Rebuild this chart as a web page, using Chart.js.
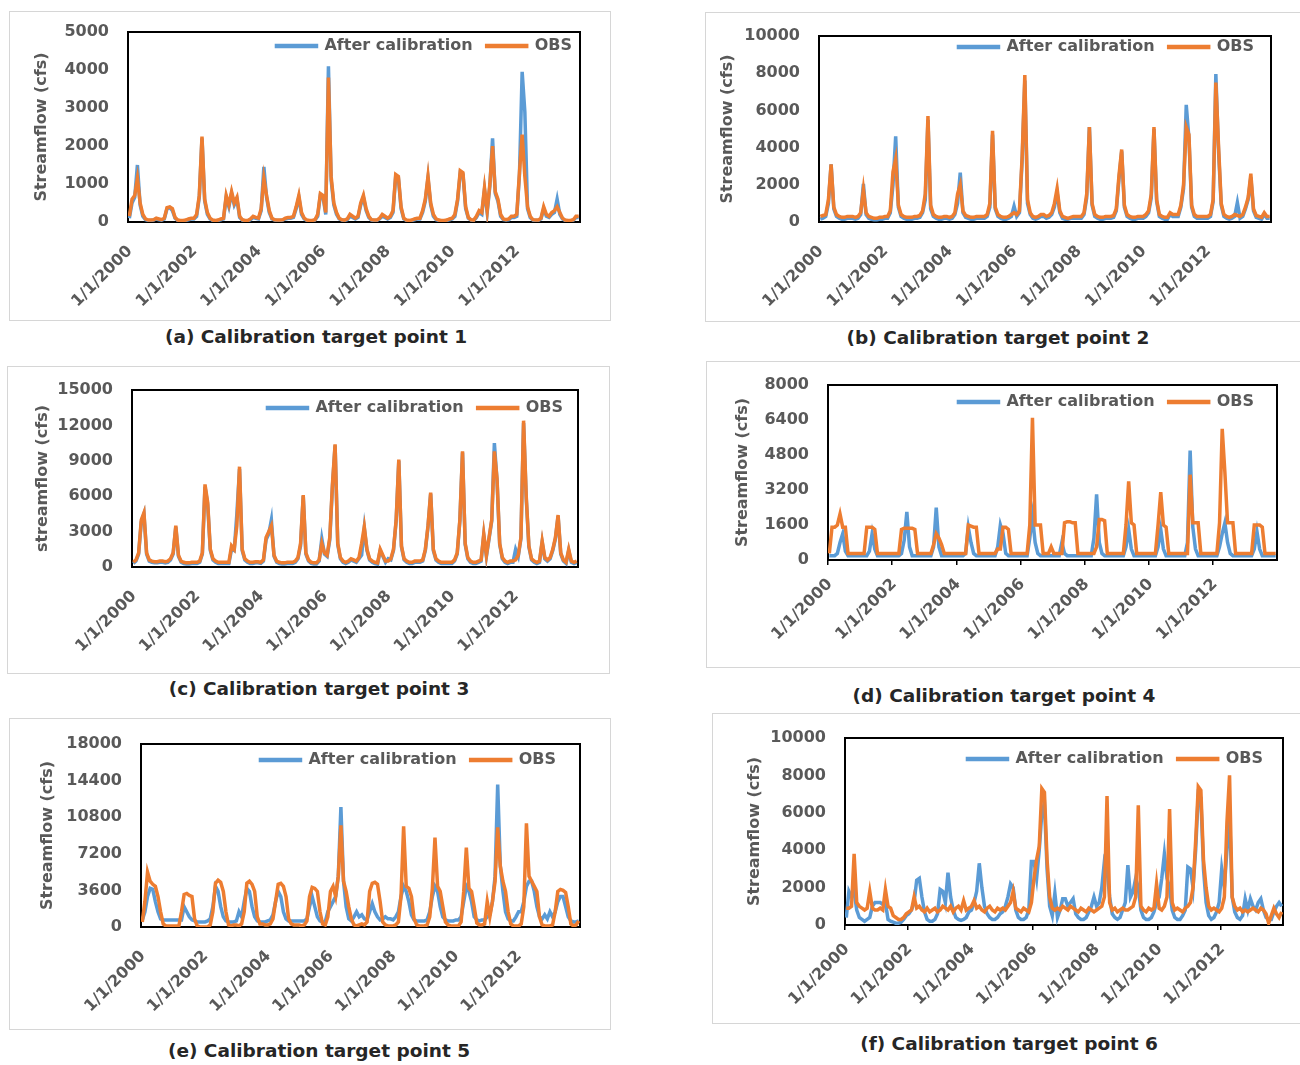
<!DOCTYPE html>
<html><head><meta charset="utf-8">
<script src="https://cdn.jsdelivr.net/npm/chart.js@4.4.1/dist/chart.umd.min.js"></script>
<style>
html,body{margin:0;padding:0;background:#fff;}
body{width:1300px;height:1065px;overflow:hidden;position:relative;}
.box{position:absolute;border:1.5px solid #d6d6d6;box-sizing:border-box;}
canvas{position:absolute;}
.cap{position:absolute;font-family:"DejaVu Sans";font-weight:bold;font-size:18.5px;line-height:22px;color:#262626;white-space:nowrap;transform:translateX(-50%);}
</style></head><body>
<script>
// ---------- categories / tick labels ----------
const seriesNames = ['After calibration', 'OBS'];
const xTickYears = [2000, 2002, 2004, 2006, 2008, 2010, 2012];
const months = [];
for (let y = 2000; y < 2014; y++) for (let m = 0; m < 12; m++) months.push(y + (m + 0.5) / 12);

const yTicksA = [0, 1000, 2000, 3000, 4000, 5000];
const yTicksB = [0, 2000, 4000, 6000, 8000, 10000];
const yTicksC = [0, 3000, 6000, 9000, 12000, 15000];
const yTicksD = [0, 1600, 3200, 4800, 6400, 8000];
const yTicksE = [0, 3600, 7200, 10800, 14400, 18000];
const yTicksF = [0, 2000, 4000, 6000, 8000, 10000];

// ---------- monthly values, Jan 2000 .. Dec 2013 (one row per year) ----------
const simA = [
100,500,650,1500,450,150,60,40,40,50,80,60,
50,80,350,380,300,100,40,30,30,40,60,80,
80,150,650,2200,550,200,80,40,30,40,60,80,
650,400,750,450,600,120,50,30,30,60,120,100,
80,300,1450,650,250,80,50,40,40,50,80,100,
100,120,350,650,200,80,40,30,30,50,150,700,
650,200,4100,1100,450,200,80,50,40,60,150,120,
80,120,450,650,300,120,50,40,40,80,150,120,
80,120,250,1200,1150,350,80,40,30,40,60,80,
80,250,550,1150,450,150,60,40,30,30,40,60,
80,150,550,1300,1250,350,100,50,40,120,250,200,
850,250,950,2200,750,550,150,60,50,60,120,120,
150,1250,3950,2900,350,120,50,40,40,80,350,150,
120,200,250,600,200,80,40,30,30,50,120,120];
const obsA = [
150,600,700,1150,500,200,80,50,50,60,100,80,
60,100,380,400,350,120,50,40,40,50,80,100,
100,200,700,2250,600,250,100,50,40,50,80,100,
700,450,800,500,650,150,60,40,40,80,150,120,
100,350,1150,700,300,100,60,50,50,60,100,120,
120,150,400,700,250,100,50,40,40,60,200,750,
700,250,3800,1200,500,250,100,60,50,80,200,150,
100,150,500,700,350,150,60,50,50,100,200,150,
100,150,300,1250,1200,400,100,50,40,50,80,100,
100,300,600,1200,500,200,80,50,40,40,50,80,
100,200,600,1350,1300,400,120,60,50,150,300,250,
900,300,1000,2000,800,600,200,80,60,80,150,150,
200,1300,2300,1200,400,150,60,50,50,100,400,200,
150,250,300,400,250,100,50,40,40,60,150,150];

const simB = [
150,200,300,1000,3100,700,300,200,150,150,200,200,
200,150,200,400,2050,400,200,150,120,120,150,150,
200,200,500,2000,4600,800,300,200,150,150,150,200,
200,250,500,1200,5500,700,300,200,150,150,200,200,
150,200,400,1000,2650,500,250,200,150,150,200,200,
200,200,300,800,4700,700,300,200,150,150,200,300,
850,300,500,3300,7600,1000,400,200,150,200,300,300,
200,250,400,800,1600,500,200,150,150,200,200,200,
200,200,400,1300,5100,900,300,200,150,150,200,200,
200,250,600,2300,3800,800,300,200,150,150,200,200,
200,300,500,1300,5000,1100,300,200,150,150,400,300,
300,300,800,1800,6300,4500,800,300,200,200,200,200,
200,300,1100,7950,3800,900,300,200,150,200,300,1050,
200,300,700,1200,2400,600,250,200,150,400,200,200];
const obsB = [
300,350,400,1200,3100,800,400,300,250,250,300,300,
300,250,300,500,1750,500,300,250,200,200,250,250,
300,300,600,2700,3400,900,400,300,250,250,250,300,
300,350,600,1500,5700,900,400,300,250,250,300,300,
250,300,500,1500,2000,600,350,300,250,250,300,300,
300,300,400,1000,4900,800,400,300,250,250,300,400,
500,400,600,3500,7900,1200,500,300,250,300,400,400,
300,350,500,1000,1800,600,300,250,200,250,300,300,
300,300,500,1500,5100,1000,400,300,250,250,300,300,
300,350,700,2500,3900,900,400,300,250,250,300,300,
300,400,600,1500,5100,1200,400,300,250,250,500,400,
400,400,900,2000,5100,4700,900,400,300,300,300,300,
300,400,1200,7500,4100,1000,400,300,250,300,400,350,
300,400,800,1300,2600,700,350,300,250,500,300,300];

const simC = [
300,500,1100,3800,4500,1100,500,400,350,350,400,400,
350,400,600,1100,3400,900,400,300,250,250,300,300,
300,400,1100,6800,5300,1400,600,400,300,300,300,300,
300,1500,1400,4500,8300,1400,600,400,300,300,350,350,
300,500,2300,2800,4000,900,400,300,250,250,300,300,
300,400,700,1800,6000,1100,500,300,250,250,500,2400,
1100,900,2300,6800,10300,1900,700,400,300,400,600,500,
400,700,1000,3300,1400,600,400,300,250,1400,900,400,
700,600,1400,3900,9000,1700,600,400,300,300,400,400,
400,500,1400,3400,6200,1400,600,400,300,300,300,300,
300,500,1100,3900,9700,1900,700,400,300,300,400,500,
2700,900,2400,3900,10500,7300,1900,700,400,300,400,400,
1500,900,2400,12200,5800,1700,600,400,300,400,2100,700,
500,700,1400,2400,4300,1100,500,300,1400,400,300,400];
const obsC = [
400,600,1200,4000,4600,1200,600,500,450,450,500,500,
450,500,700,1200,3500,1000,500,400,350,350,400,400,
400,500,1200,7000,5500,1500,700,500,400,400,400,400,
400,1800,1500,3500,8500,1500,700,500,400,400,450,450,
400,600,2500,3000,3500,1000,500,400,350,350,400,400,
400,500,800,2000,6100,1200,600,400,350,350,600,2000,
1200,1000,2500,7000,10400,2000,800,500,400,500,700,600,
500,800,2000,3400,1500,700,500,400,350,1500,1000,500,
500,700,1500,4000,9100,1800,700,500,400,400,500,500,
500,600,1500,3500,6300,1500,700,500,400,400,400,400,
400,600,1200,4000,9800,2000,800,500,400,400,500,600,
2800,1000,2500,4000,9800,7500,2000,800,500,400,500,500,
600,1000,2500,12400,6000,1800,700,500,400,500,2200,800,
600,800,1500,2500,4400,1200,600,400,1500,500,400,500];

const simD = [
200,200,200,300,800,1200,400,200,200,200,200,200,
200,200,200,400,1200,500,200,200,200,200,200,200,
200,200,200,300,900,2200,600,200,200,200,200,200,
200,200,200,600,2400,600,200,200,200,200,200,200,
200,200,200,300,1500,800,300,200,200,200,200,200,
200,200,200,600,1600,1200,300,200,200,200,200,200,
200,200,200,1000,2000,800,300,200,200,200,200,200,
200,200,200,800,300,200,200,200,200,200,200,200,
200,200,200,1000,3000,800,300,200,200,200,200,200,
200,200,200,600,1400,500,200,200,200,200,200,200,
200,200,200,600,1400,500,200,200,200,200,200,200,
200,200,800,5000,1500,500,200,200,200,200,200,200,
200,200,600,1200,1700,800,300,200,200,200,200,200,
200,200,200,500,1300,500,200,200,200,200,200,200];
const obsD = [
300,1500,1500,1600,2100,1500,1500,300,300,300,300,300,
300,300,1500,1500,1500,1400,300,300,300,300,300,300,
300,300,300,1400,1450,1450,1450,1450,1400,300,300,300,
300,300,300,700,1200,1000,700,300,300,300,300,300,
300,300,300,300,1600,1550,1500,1500,300,300,300,300,
300,300,300,500,500,1500,1500,1400,300,300,300,300,
300,300,300,1600,6500,1600,1600,1600,300,300,300,600,
300,300,300,300,1700,1750,1750,1700,1700,300,300,300,
300,300,300,300,600,1850,1850,1800,300,300,300,300,
300,300,300,1600,3600,1700,1600,300,300,300,300,300,
300,300,300,1600,3100,1600,1500,300,300,300,300,300,
300,300,300,3900,1700,1700,1700,300,300,300,300,300,
300,300,1700,6000,4000,1700,1700,1700,300,300,300,300,
300,300,300,1600,1600,1600,1500,300,300,300,300,300];

const simE = [
700,1500,3000,3800,3700,2500,1500,800,700,700,700,700,
700,700,700,700,2000,1500,1000,700,600,500,500,500,
500,600,800,2000,4000,3500,2000,1000,600,500,500,500,
600,1500,1000,2500,3800,3500,2000,1000,600,500,500,500,
600,700,1200,2500,3500,3000,1500,800,600,600,600,600,
600,600,600,800,2000,3000,2000,1000,600,500,500,1500,
2000,2500,3000,5000,11800,4500,2000,800,600,1000,1500,1000,
1200,800,700,1500,2300,1500,1000,700,800,1000,800,800,
700,1000,1500,3000,4000,3500,2500,1200,700,600,600,600,
600,700,1500,3000,4000,3500,2000,1000,700,600,600,600,
700,700,1000,2500,4000,3500,2500,1000,700,600,700,700,
1000,1200,2500,5000,14000,6000,3500,1500,800,600,600,1000,
1500,1500,2500,4000,4500,4500,3500,2000,1000,800,1200,800,
1500,1000,1500,2500,3000,3000,2000,1000,600,500,500,600];
const obsE = [
500,2500,5400,4500,4200,4000,3000,1500,300,100,100,100,
100,100,100,1500,3200,3300,3100,3000,800,100,0,0,
0,0,200,1500,4300,4600,4400,3500,1500,200,100,200,
200,100,300,1500,4300,4500,4200,3500,1000,300,300,200,
200,300,800,2500,4200,4300,4000,3000,800,300,200,200,
200,100,200,600,3000,3900,3800,3500,1500,300,200,1000,
3500,4000,3000,5000,10000,4500,3500,2000,800,200,100,200,
300,200,500,3500,4300,4400,4200,2500,500,200,100,100,
100,200,500,3000,9900,4000,3800,3000,800,200,100,100,
100,200,1000,3800,8800,4000,3500,2000,500,200,100,100,
100,100,500,3500,7800,3800,3500,2000,400,200,200,300,
2500,1000,2500,4500,9800,6000,4500,3500,1500,300,100,100,
100,300,2000,10200,5000,4500,4000,3500,1000,200,100,100,
100,200,1500,3500,3700,3600,3400,2000,300,100,200,600];

const simF = [
400,1800,1500,1800,800,400,300,200,300,400,1000,1200,
1200,1200,1100,1200,300,200,150,100,100,150,300,500,
600,800,1200,2400,2500,1500,700,300,200,200,300,600,
1900,1800,1200,2800,1500,800,400,300,250,300,400,700,
800,1200,1800,3300,2000,1000,600,400,300,300,400,600,
700,1000,1500,2200,2000,800,400,300,300,400,800,3400,
3400,2500,4000,6000,6500,3000,1000,500,1700,400,800,1400,
1400,1000,1200,1400,600,400,300,300,400,700,1000,1500,
1000,1200,2000,3400,3000,1500,600,400,300,400,800,1200,
3200,1500,1800,2500,2000,800,400,300,300,400,700,1200,
1500,2500,3800,2500,2000,800,400,300,300,500,800,3100,
3000,2000,4000,7000,6800,3000,1200,500,300,400,700,1200,
3000,2000,4000,6000,1500,700,400,300,500,1400,800,1400,
1000,800,1200,1400,800,400,300,300,700,1000,1200,1000];
const obsF = [
900,900,1000,3800,1200,1000,900,800,900,1800,900,800,
800,900,800,1900,1000,900,500,400,300,300,400,600,
700,800,1500,900,1000,800,700,900,700,800,900,700,
800,1000,900,800,1000,700,900,1000,800,1300,800,900,
1000,1300,900,1000,800,700,900,1000,800,700,900,800,
900,800,1000,1200,1800,900,800,700,900,800,700,1200,
2500,3500,4200,7300,7100,3500,1500,900,800,900,800,1000,
900,800,1000,900,800,700,900,800,700,900,800,700,
800,900,1000,1500,6900,1200,800,900,700,800,900,800,
800,900,1000,1500,6400,1000,800,700,900,800,900,2200,
900,800,1000,1500,6200,1200,800,900,800,700,900,1000,
1200,2000,4500,7400,7200,3500,2000,1000,800,900,800,700,
900,1500,5500,8000,1500,1000,800,900,700,800,700,800,
900,800,700,900,800,600,100,500,900,600,400,700];

// ---------- layout (page pixels) ----------
const panels = [
  {caption:'(a) Calibration target point 1', yTitle:'Streamflow (cfs)', yTicks:yTicksA, sim:simA, obs:obsA,
   box:[9,11,602,310], plot:[128,32,580,222], cap:[316,337], titleX:42, tickMarks:false, legY:14, legEnd:572},
  {caption:'(b) Calibration target point 2', yTitle:'Streamflow (cfs)', yTicks:yTicksB, sim:simB, obs:obsB,
   box:[705,12,620,310], plot:[819,36,1271,222], cap:[998,338], titleX:728, tickMarks:false, legY:11, legEnd:1254},
  {caption:'(c) Calibration target point 3', yTitle:'streamflow (cfs)', yTicks:yTicksC, sim:simC, obs:obsC,
   box:[7,366,603,308], plot:[132,390,578,567], cap:[319,689], titleX:43, tickMarks:false, legY:18, legEnd:563},
  {caption:'(d) Calibration target point 4', yTitle:'Streamflow (cfs)', yTicks:yTicksD, sim:simD, obs:obsD,
   box:[706,361,620,307], plot:[828,385,1277,560], cap:[1004,696], titleX:743, tickMarks:true, legY:17, legEnd:1254},
  {caption:'(e) Calibration target point 5', yTitle:'Streamflow (cfs)', yTicks:yTicksE, sim:simE, obs:obsE,
   box:[9,718,602,312], plot:[141,744,580,927], cap:[319,1051], titleX:48, tickMarks:false, legY:16, legEnd:556},
  {caption:'(f) Calibration target point 6', yTitle:'Streamflow (cfs)', yTicks:yTicksF, sim:simF, obs:obsF,
   box:[712,713,620,311], plot:[845,738,1283,925], cap:[1009,1044], titleX:755, tickMarks:true, legY:21, legEnd:1263}
];

const BLUE = '#5B9BD5', ORANGE = '#ED7D31', TXT = '#595959', FAM = 'DejaVu Sans';
const LEG_PAD = 14, LEG_FONT = 16;
const EXT = 40; // canvas extends above its frame so the layout's top padding always wins

const framePlugin = {
  id: 'frame',
  beforeDatasetsDraw(chart) {
    const {ctx, chartArea: a} = chart;
    ctx.save();
    ctx.strokeStyle = '#000';
    ctx.lineWidth = 2;
    ctx.strokeRect(a.left, a.top, a.right - a.left, a.bottom - a.top);
    ctx.restore();
  }
};

// moves the (almost zero-height) legend box inside the plot area, top-right
const legendInside = {
  id: 'legendInside',
  afterLayout(chart, args, opts) {
    const L = chart.legend;
    if (!L) return;
    const a = chart.chartArea;
    L.top = a.top + opts.offsetY - LEG_PAD - LEG_FONT / 2;
    L.height = 60;
    L.bottom = L.top + 60;
    L.left = a.left;
    L.right = opts.endX + LEG_PAD;
    L.width = L.right - L.left;
  }
};

panels.forEach(p => {
  const [bx, by, bw, bh] = p.box;
  const [pl, pt, pr, pb] = p.plot;
  const box = document.createElement('div');
  box.className = 'box';
  Object.assign(box.style, {left: bx + 'px', top: by + 'px', width: bw + 'px', height: bh + 'px'});
  document.body.appendChild(box);

  const cx = bx, cy = by - EXT, cw = bw, ch = bh + EXT;
  const cv = document.createElement('canvas');
  cv.width = cw; cv.height = ch;
  Object.assign(cv.style, {left: cx + 'px', top: cy + 'px', width: cw + 'px', height: ch + 'px'});
  document.body.appendChild(cv);

  const cap = document.createElement('div');
  cap.className = 'cap';
  cap.textContent = p.caption;
  Object.assign(cap.style, {left: p.cap[0] + 'px', top: (p.cap[1] - 11) + 'px'});
  document.body.appendChild(cap);

  const yAxisW = pl - cx;
  const xAxisH = cy + ch - pb;
  const tickFont = {family: FAM, weight: 'bold', size: 16};
  const pts = arr => months.map((x, i) => ({x: x, y: arr[i]}));

  new Chart(cv, {
    type: 'line',
    data: {
      datasets: [
        {label: seriesNames[0], data: pts(p.sim), borderColor: BLUE, backgroundColor: BLUE,
         borderWidth: 3.5, pointRadius: 0, tension: 0, order: 2},
        {label: seriesNames[1], data: pts(p.obs), borderColor: ORANGE, backgroundColor: ORANGE,
         borderWidth: 3.5, pointRadius: 0, tension: 0, order: 1}
      ]
    },
    options: {
      responsive: false, animation: false, devicePixelRatio: 1, events: [],
      layout: {padding: {left: 0, top: pt - cy - 1, right: cx + cw - pr, bottom: 0}},
      plugins: {
        tooltip: {enabled: false},
        legend: {
          position: 'top', align: 'end', fullSize: false, maxHeight: 1,
          labels: {boxWidth: 40, boxHeight: 1, padding: LEG_PAD, color: TXT,
                   font: {family: FAM, weight: 'bold', size: LEG_FONT},
                   sort: (a, b) => a.datasetIndex - b.datasetIndex}
        },
        legendInside: {offsetY: p.legY, endX: p.legEnd - cx}
      },
      scales: {
        x: {
          type: 'linear', min: 2000, max: 2014,
          afterBuildTicks: s => { s.ticks = xTickYears.map(v => ({value: v})); },
          afterFit: s => { s.height = xAxisH; },
          ticks: {color: TXT, font: tickFont, minRotation: 45, maxRotation: 45, autoSkip: false,
                  padding: p.tickMarks ? 10 : 15, labelOffset: 2, callback: v => '1/1/' + v},
          grid: {display: p.tickMarks, drawOnChartArea: false, drawTicks: true, tickLength: 5, color: '#000', lineWidth: 1.5},
          border: {display: false}
        },
        y: {
          min: p.yTicks[0], max: p.yTicks[p.yTicks.length - 1],
          afterBuildTicks: s => { s.ticks = p.yTicks.map(v => ({value: v})); },
          afterFit: s => { s.width = yAxisW; },
          ticks: {color: TXT, font: tickFont, padding: 19, callback: v => String(v)},
          grid: {display: false, drawTicks: false},
          border: {display: false},
          title: {display: true, text: p.yTitle, color: TXT, font: {family: FAM, weight: 'bold', size: 16},
                  padding: {top: p.titleX - cx - 9.6, bottom: 0}}
        }
      }
    },
    plugins: [framePlugin, legendInside]
  });
});
</script>
</body></html>
